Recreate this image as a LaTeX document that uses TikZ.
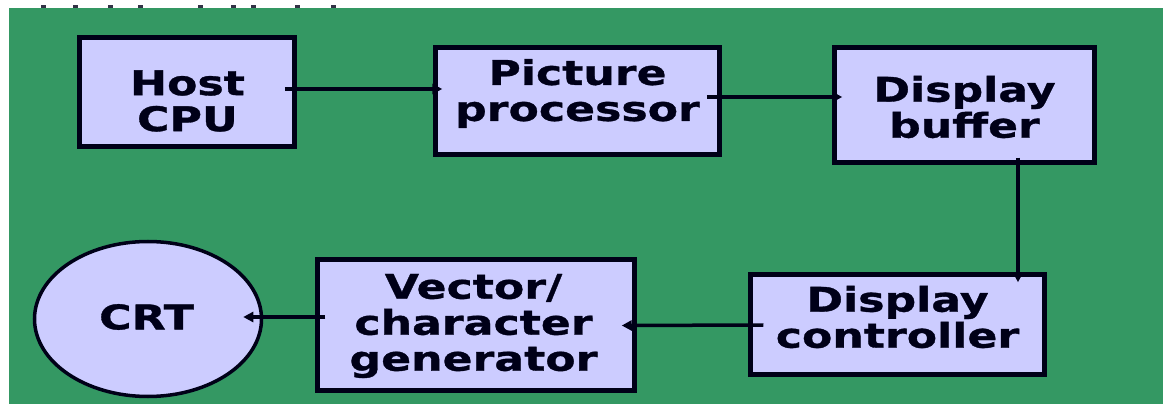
\documentclass[tikz,border=0pt]{standalone}
\usepackage{fontspec}
\newfontfamily\lblfont[FakeStretch=1.3, BoldFeatures={FakeBold=1}]{DejaVu Sans}
\usetikzlibrary{arrows.meta,shapes.geometric}
\definecolor{bg}{RGB}{52,152,99}
\definecolor{lav}{RGB}{204,204,255}
\definecolor{ink}{RGB}{0,0,24}
\tikzset{
  blockbox/.style={draw=ink, line width=4.5pt, fill=lav, inner sep=0pt},
  ovalbox/.style={ellipse, draw=ink, line width=3.5pt, fill=lav, inner sep=0pt},
  lbl/.style={font=\lblfont\bfseries\fontsize{34}{36}\selectfont, align=center, inner sep=0pt, text=ink},
  flow/.style={draw=ink, line width=3.5pt, -{Triangle[length=10pt,width=10pt]}},
}
\begin{document}
\begin{tikzpicture}[x=1pt,y=-1pt]
\useasboundingbox (0,0) rectangle (1163,406);
\fill[white] (0,0) rectangle (1163,406);
\fill[bg] (9,8) rectangle (1163,404);
% remnants of a heading cut off above the panel
\foreach \x in {43,75,110,140,200,233,253,297,333}
  \fill[ink!80] (\x-2.5,5) rectangle (\x+2.5,8);

% blocks
\node[blockbox, minimum width=215pt, minimum height=109pt] (host) at (187,92) {};
\node[blockbox, minimum width=284pt, minimum height=107pt] (pic) at (577.5,101) {};
\node[blockbox, minimum width=260pt, minimum height=115pt] (buf) at (964.5,105) {};
\node[blockbox, minimum width=294pt, minimum height=100pt] (ctrl) at (897.5,324.5) {};
\node[blockbox, minimum width=317pt, minimum height=131pt] (vec) at (476,325) {};
\node[ovalbox, minimum width=227pt, minimum height=155pt] (crt) at (148,319) {};

% labels
\node[lbl] (hostT) at (187.5,101) {Host\\CPU};
\node[lbl] (picT) at (577.5,93.5) {Picture\\processor};
\node[lbl] (bufT) at (964.5,107) {Display\\buffer};
\node[lbl] (ctrlT) at (897.5,317) {Display\\controller};
\node[lbl] (vecT) at (473.5,326) {Vector/\\character\\generator};
\node[lbl] (crtT) at (146.5,317) {CRT};

% data flow
\draw[flow] ([shift={(-12,-3)}]host.east) -- ([shift={(9,-12)}]pic.west);
\draw[flow] ([shift={(-15,-4)}]pic.east) -- ([shift={(10,-8)}]buf.west);
\draw[flow] ([shift={(53.5,-7)}]buf.south) -- ([shift={(120.5,10)}]ctrl.north);
\draw[flow] ([shift={(15,0.5)}]ctrl.west) -- ([shift={(-15,0.5)}]vec.east);
\draw[flow] ([shift={(10,-8)}]vec.west) -- ([shift={(-20,-2)}]crt.east);
\end{tikzpicture}
\end{document}
